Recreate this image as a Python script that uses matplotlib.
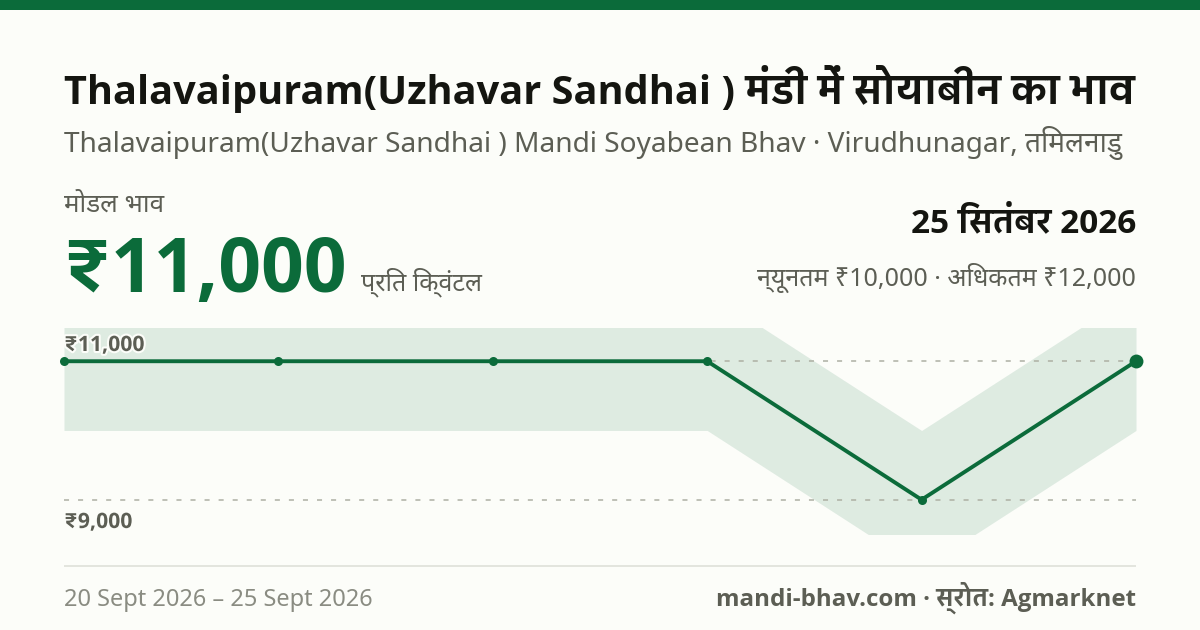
import re
import matplotlib
matplotlib.use('Agg')
import matplotlib.pyplot as plt
import matplotlib.patheffects as pe
import numpy as np

REGULAR = ['Noto Sans', 'DejaVu Sans']
BOLD = ['Open Sans', 'IBM Plex Sans Devanagari', 'Noto Sans', 'DejaVu Sans']
plt.rcParams['font.family'] = REGULAR

dates = ['20 Sept', '21 Sept', '22 Sept', '23 Sept', '24 Sept', '25 Sept']
modal = [11000, 11000, 11000, 11000, 9000, 11000]
low = [10000, 10000, 10000, 10000, 8000, 10000]
high = [12000, 12000, 12000, 12000, 10000, 12000]
ref_levels = [11000, 9000]

GREEN = '#0b6b3a'
BG = '#fcfdf9'
DARK = '#141510'
GREY = '#5c5e54'
LIGHT = '#8a8c82'

W, H = 1200, 630
fig = plt.figure(figsize=(W / 100, H / 100), dpi=100, facecolor=BG)


def vis(s):
    # matplotlib does no shaping, the i-matra has to come before its consonant
    return re.sub('((?:[\u0915-\u0939]\u094d)*[\u0915-\u0939])\u093f', '\u093f\\1', s)


def put(x, y, s, size, color, bold=False, ha='left', **kw):
    # x, y in pixels from top left, size in pixels
    return fig.text(x / W, 1 - y / H, vis(s), fontsize=size * 0.72, color=color,
                    family=BOLD if bold else REGULAR, fontweight='bold' if bold else 'normal',
                    ha=ha, va='baseline', **kw)


# top stripe and footer rule
fig.add_artist(plt.Rectangle((0, 1 - 10 / H), 1, 10 / H, color=GREEN, lw=0))
fig.add_artist(plt.Rectangle((64 / W, 1 - 567 / H), 1072 / W, 2 / H, color='#e3e5de', lw=0))

put(64, 104, 'Thalavaipuram(Uzhavar Sandhai ) मंडी में सोयाबीन का भाव', 39.8, DARK, True)
put(64, 152, 'Thalavaipuram(Uzhavar Sandhai ) Mandi Soyabean Bhav · Virudhunagar, तमिलनाडु', 28.05, GREY)
put(64, 212, 'मोडल भाव', 26, GREY)
put(62.5, 292, '₹11,000', 75, GREEN, True)
put(361, 290, 'प्रति क्विंटल', 25, GREY)
put(1136, 232, '25 सितंबर 2026', 33.4, DARK, True, ha='right')
put(1136, 286, 'न्यूनतम ₹10,000 · अधिकतम ₹12,000', 25, GREY, ha='right')
put(64, 606, '20 Sept 2026 – 25 Sept 2026', 23.6, LIGHT)
put(1136, 606, 'mandi-bhav.com · स्रोत: Agmarknet', 24.1, GREY, True, ha='right')

ax = fig.add_axes([64 / W, 1 - 533.7 / H, 1072 / W, 205.7 / H])
ax.set_axis_off()
x = np.arange(len(dates))
ax.set_xlim(0, 5)
ax.set_ylim(8509, 11480)

ax.fill_between(x, low, high, color=GREEN, alpha=0.12, lw=0)
for lv in ref_levels:
    ax.axhline(lv, color='#adafa3', lw=1.1, dashes=(3.3, 5.9), zorder=2)
ax.plot(x, modal, color=GREEN, lw=2.8, zorder=3, clip_on=False)
ax.plot(x[:-1], modal[:-1], 'o', color=GREEN, ms=6.5, zorder=4, clip_on=False, mew=0)
ax.plot(x[-1:], modal[-1:], 'o', color=GREEN, ms=10, zorder=4, clip_on=False, mew=0)

halo = [pe.withStroke(linewidth=3, foreground=BG)]
put(64, 351, '₹11,000', 21.2, GREY, True, path_effects=halo, zorder=5)
put(64, 528, '₹9,000', 21.2, GREY, True, path_effects=halo, zorder=5)

fig.savefig('out.png', dpi=100, facecolor=BG)
